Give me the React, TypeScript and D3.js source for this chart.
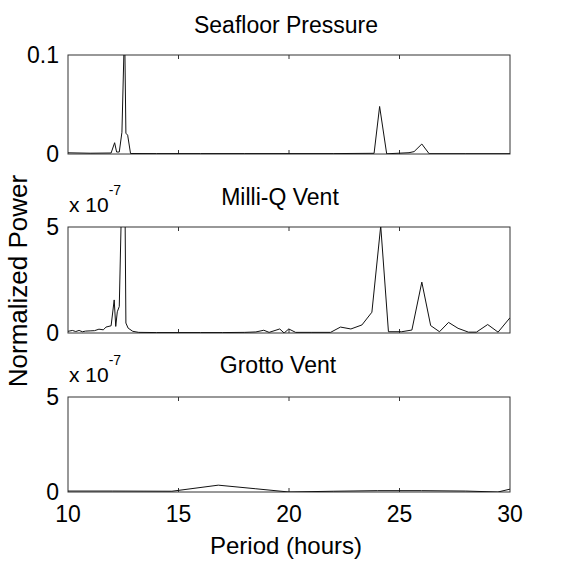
import React from "react";
import * as d3 from "d3";

// ---------- data ----------
const periodTicks = [10, 15, 20, 25, 30];
const panelTitles = ["Seafloor Pressure", "Milli-Q Vent", "Grotto Vent"];

const seafloorPeriod = [10, 11, 11.95, 12.11, 12.2, 12.32, 12.44, 12.56, 12.62, 12.7, 12.83, 14, 16, 18, 20, 22, 23.85, 24.1, 24.42, 25.43, 25.66, 26.01, 26.34, 28, 30];
const seafloorPower = [0.0012, 0.0008, 0.001, 0.0114, 0.002, 0.002, 0.022, 0.13, 0.021, 0.019, 0.0005, 0.0004, 0.0004, 0.0004, 0.0004, 0.0004, 0.0007, 0.048, 0.0002, 0.0013, 0.0024, 0.0101, 0.0003, 0.0003, 0.0003];
const seafloorTicks = [0, 0.1];
const seafloorTickLabels = ["0", "0.1"];

const milliqPeriod = [10.0, 10.2, 10.35, 10.5, 10.65, 10.8, 11.0, 11.2, 11.4, 11.6, 11.72, 11.95, 12.09, 12.16, 12.23, 12.32, 12.42, 12.5, 12.58, 12.62, 12.72, 12.93, 13.2, 14.0, 15.0, 16.0, 17.0, 18.0, 18.5, 18.86, 19.1, 19.58, 19.78, 19.99, 20.3, 21.0, 21.88, 22.33, 22.8, 23.3, 23.75, 24.15, 24.5, 25.1, 25.56, 26.01, 26.41, 26.81, 27.22, 27.65, 28.12, 28.48, 28.99, 29.46, 30.0];
const milliqPower = [0.08, 0.12, 0.07, 0.12, 0.06, 0.09, 0.1, 0.11, 0.18, 0.15, 0.28, 0.34, 1.56, 0.31, 1.0, 1.25, 6.0, 6.5, 6.0, 0.47, 0.23, 0.08, 0.03, 0.02, 0.02, 0.02, 0.02, 0.03, 0.05, 0.13, 0.03, 0.19, 0.0, 0.19, 0.03, 0.03, 0.03, 0.28, 0.19, 0.38, 0.98, 5.05, 0.06, 0.06, 0.14, 2.4, 0.35, 0.06, 0.5, 0.22, 0.04, 0.04, 0.4, 0.04, 0.72];
const milliqTicks = [0, 5];
const milliqTickLabels = ["0", "5"];

const grottoPeriod = [10, 12, 14.7, 16.8, 18.5, 20.0, 22, 24, 26, 28, 29.45, 30];
const grottoPower = [0.05, 0.05, 0.04, 0.36, 0.17, 0.0, 0.04, 0.07, 0.07, 0.05, 0.0, 0.15];
const grottoTicks = [0, 5];
const grottoTickLabels = ["0", "5"];

const exponentLabel = "-7";

// ---------- layout ----------
const W = 567;
const H = 561;
const left = 68;
const right = 510;
const font = "'Liberation Sans', Arial, Helvetica, sans-serif";

type Panel = {
  title: string;
  period: number[];
  power: number[];
  ticks: number[];
  tickLabels: string[];
  top: number;
  bottom: number;
  titleX: number;
  titleY: number;
  exponent: boolean;
};

const panels: Panel[] = [
  { title: panelTitles[0], period: seafloorPeriod, power: seafloorPower, ticks: seafloorTicks, tickLabels: seafloorTickLabels, top: 55, bottom: 154, titleX: 286, titleY: 33, exponent: false },
  { title: panelTitles[1], period: milliqPeriod, power: milliqPower, ticks: milliqTicks, tickLabels: milliqTickLabels, top: 227, bottom: 333, titleX: 280, titleY: 205, exponent: true },
  { title: panelTitles[2], period: grottoPeriod, power: grottoPower, ticks: grottoTicks, tickLabels: grottoTickLabels, top: 397, bottom: 492, titleX: 278, titleY: 373, exponent: true },
];

const x = d3.scaleLinear().domain([periodTicks[0], periodTicks[periodTicks.length - 1]]).range([left, right]);

function PanelView({ p, i, showX }: { p: Panel; i: number; showX: boolean }) {
  const y = d3.scaleLinear().domain([p.ticks[0], p.ticks[p.ticks.length - 1]]).range([p.bottom, p.top]);
  const pts = p.period.map((d, k) => [d, p.power[k]] as [number, number]);
  const line = d3.line<[number, number]>().x((d) => x(d[0])).y((d) => y(d[1]));
  const clipId = `clip-${i}`;
  const tl = 4;
  return (
    <g>
      <defs>
        <clipPath id={clipId}>
          <rect x={left} y={p.top} width={right - left} height={p.bottom - p.top} />
        </clipPath>
      </defs>
      <rect x={left} y={p.top} width={right - left} height={p.bottom - p.top} fill="#fff" stroke="#333" strokeWidth={1} />
      {periodTicks.slice(1, -1).map((t) => (
        <g key={t} stroke="#333" strokeWidth={1}>
          <line x1={x(t)} x2={x(t)} y1={p.bottom} y2={p.bottom - tl} />
          <line x1={x(t)} x2={x(t)} y1={p.top} y2={p.top + tl} />
        </g>
      ))}
      <path d={line(pts) || ""} fill="none" stroke="#111" strokeWidth={1} clipPath={`url(#${clipId})`} />
      {p.ticks.map((t, k) => (
        <text key={t} x={59} y={y(t)} dy="0.36em" textAnchor="end" fontSize={23} fontFamily={font} fill="#000">
          {p.tickLabels[k]}
        </text>
      ))}
      <text x={p.titleX} y={p.titleY} textAnchor="middle" fontSize={23} fontFamily={font} fill="#000">
        {p.title}
      </text>
      {p.exponent && (
        <text x={69} y={p.top - 15} fontSize={21} fontFamily={font} fill="#000">
          x 10
          <tspan fontSize={14} dy={-17}>{exponentLabel}</tspan>
        </text>
      )}
      {showX &&
        periodTicks.map((t) => (
          <text key={t} x={x(t)} y={522} textAnchor="middle" fontSize={23} fontFamily={font} fill="#000">
            {t}
          </text>
        ))}
    </g>
  );
}

export default function App() {
  return (
    <svg width={W} height={H} style={{ position: "absolute", left: 0, top: 0, background: "#fff" }}>
      <rect width={W} height={H} fill="#fff" />
      {panels.map((p, i) => (
        <PanelView key={i} p={p} i={i} showX={i === panels.length - 1} />
      ))}
      <text x={286} y={554} textAnchor="middle" fontSize={24} fontFamily={font} fill="#000">
        Period (hours)
      </text>
      <text transform="translate(27,281) rotate(-90)" textAnchor="middle" fontSize={26} fontFamily={font} fill="#000">
        Normalized Power
      </text>
    </svg>
  );
}
